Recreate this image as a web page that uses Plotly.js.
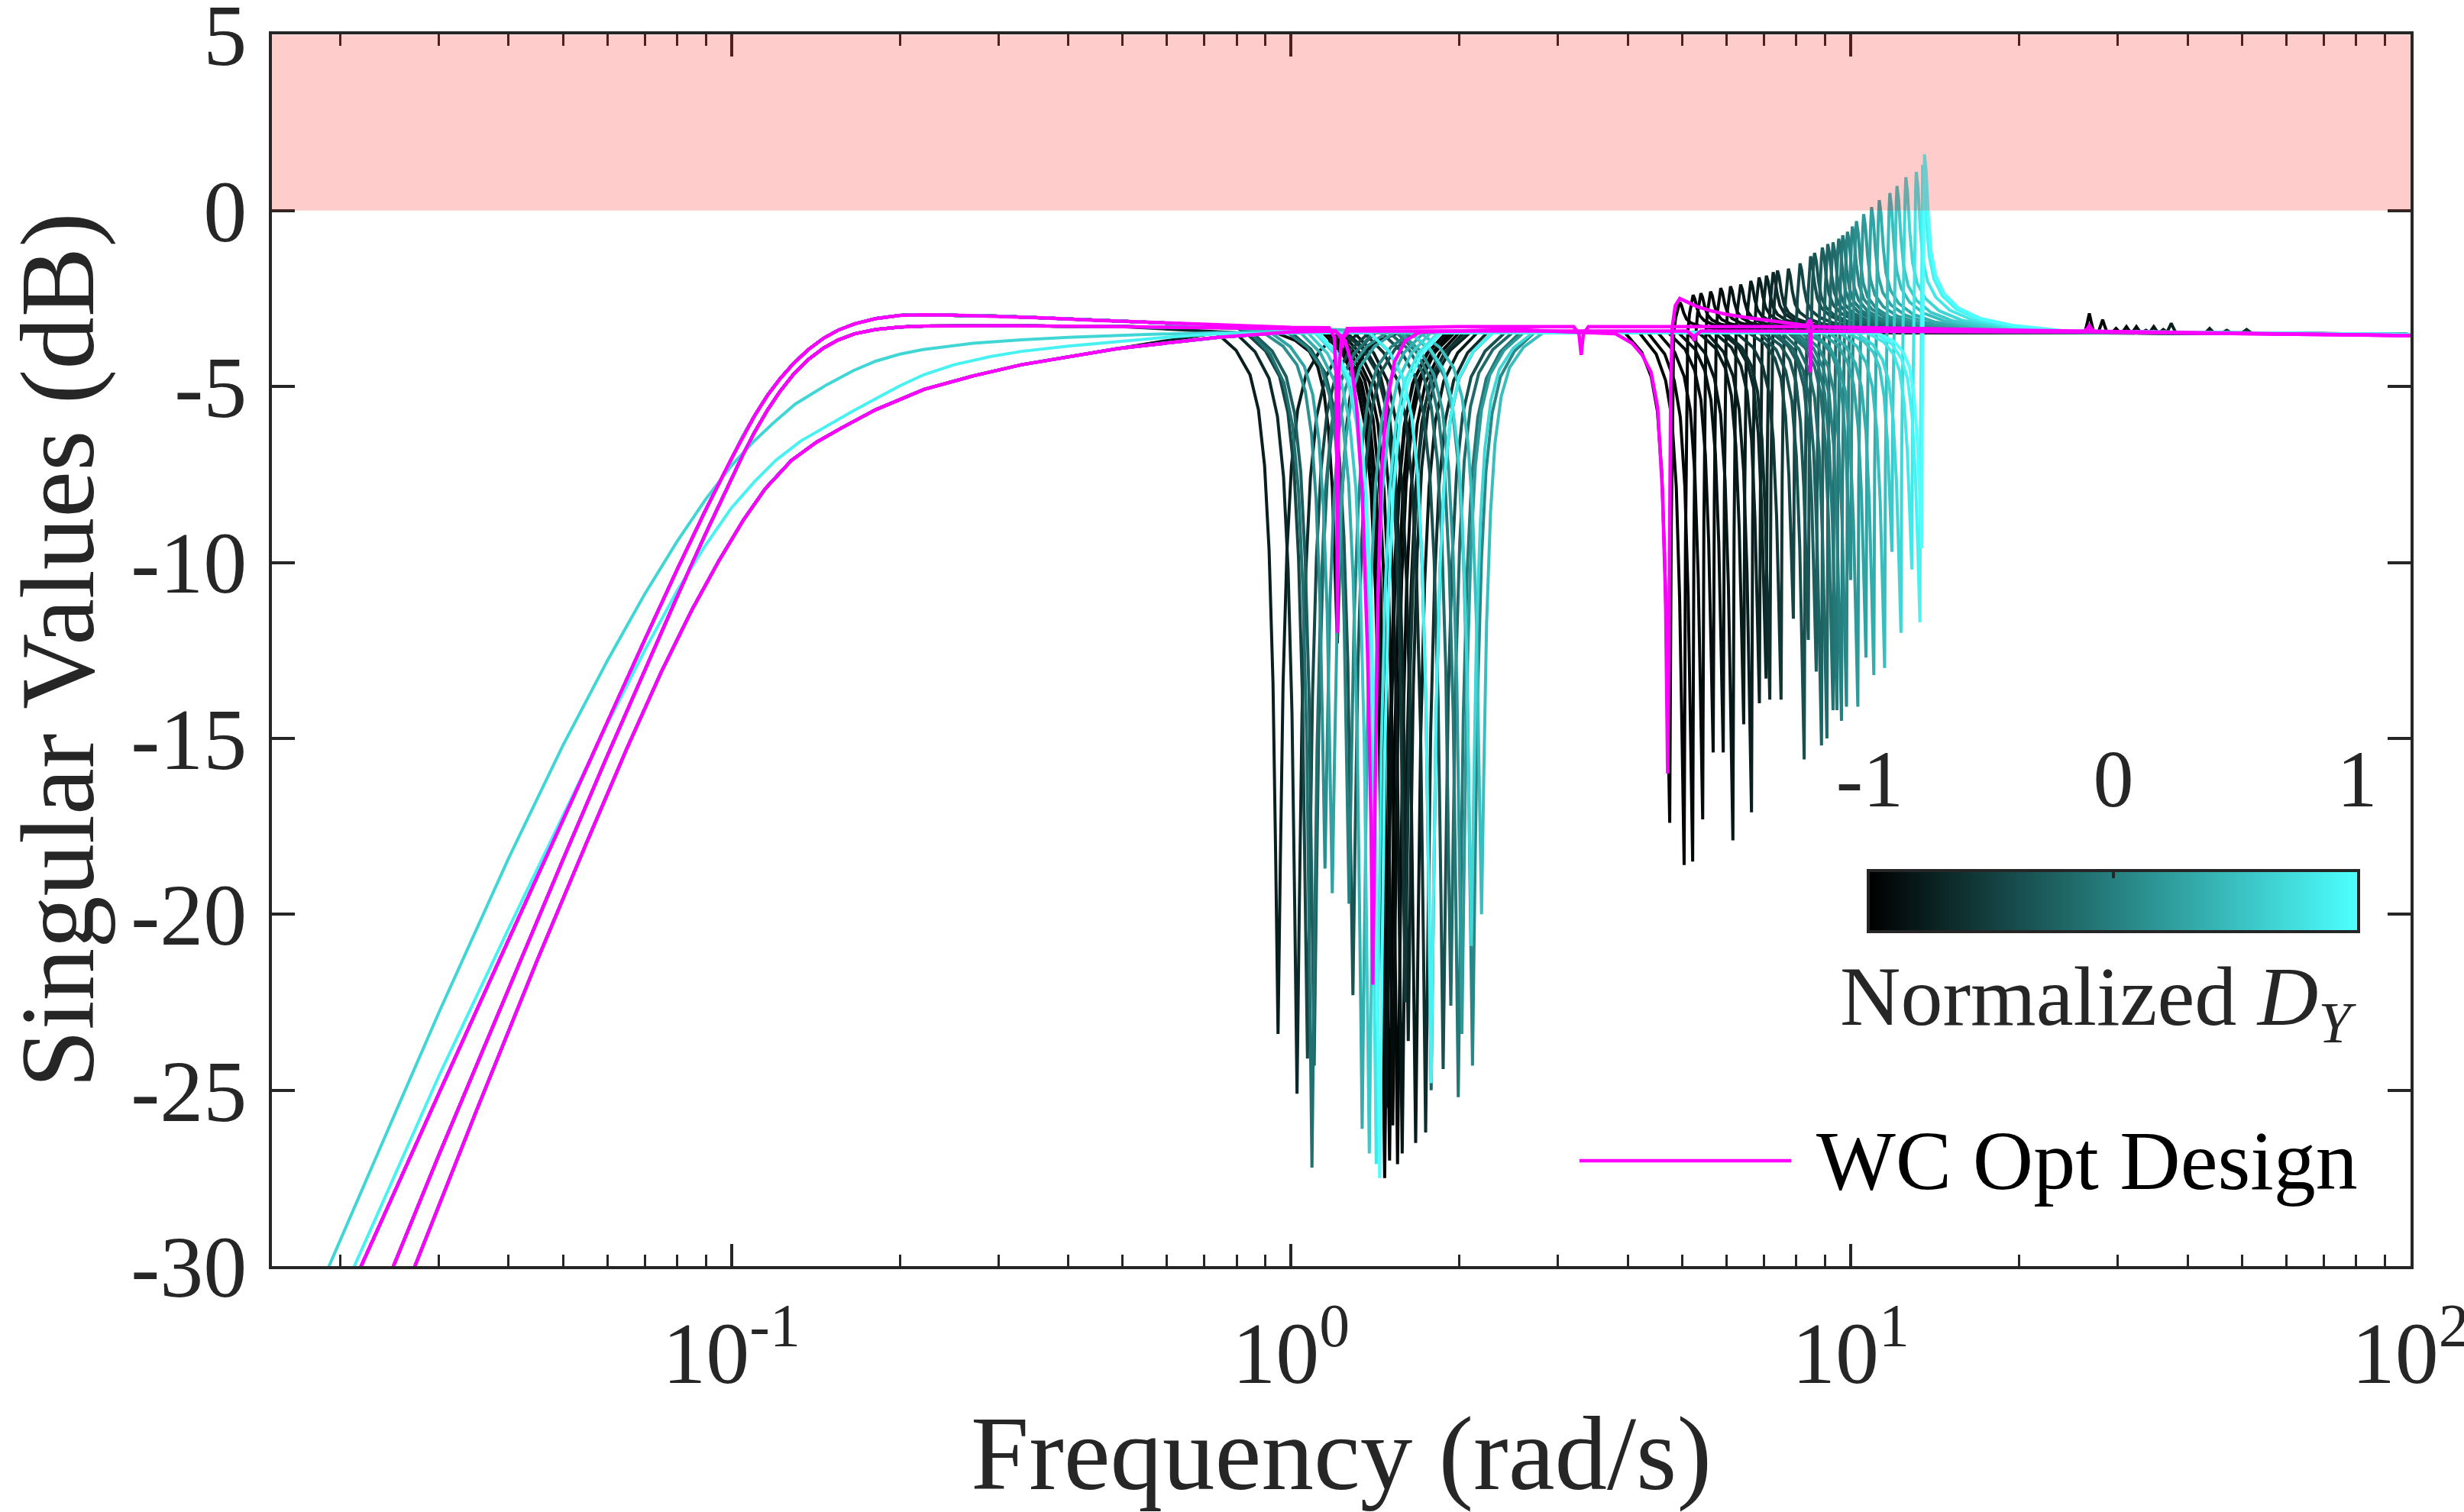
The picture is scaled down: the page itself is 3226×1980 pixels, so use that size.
<!DOCTYPE html>
<html><head><meta charset="utf-8">
<script src="https://cdn.plot.ly/plotly-3.0.1.min.js"></script>
<style>html,body{margin:0;padding:0;background:#fff;}#chart{width:3226px;height:1980px;}</style>
</head><body><div id="chart"></div>
<script>
// ================= DATA =================
// colour value (normalized D_Y) of each family curve
const dyValues = [-1.00,-0.97,-0.94,-0.91,-0.88,-0.85,-0.82,-0.79,-0.76,-0.72,-0.68,-0.64,-0.58,-0.45,-0.38,-0.33,-0.27,-0.22,-0.17,-0.11,-0.06,0.00,0.06,0.12,0.20,0.28,0.36,0.48,0.58,0.68,0.80,0.90,1.00];
// low-frequency roll-off each curve follows
const lowProfileOf = ['T','S','L','T','S','L','T','S','L','T','S','L','T','S','L','T','S','L','T','S','L','T','S','L','T','S','L','T','S','C1','L','C2','T'];
// first anti-resonance (around 1-2 rad/s): frequency (rad/s) and depth (dB)
const notch1Freq  = [1.47,1.50,1.55,1.52,1.48,1.21,1.58,1.67,0.948,1.62,1.025,1.74,1.60,1.07,1.87,1.29,1.10,1.78,1.93,1.09,1.99,1.27,2.11,1.15,2.02,1.185,1.34,2.19,1.38,2.10,1.42,1.78,1.44];
const notch1Depth = [-27.5,-27.0,-27.1,-26.0,-25.5,-12.3,-26.8,-26.5,-23.4,-23.6,-25.1,-26.2,-22.5,-24.1,-24.4,-22.3,-24.3,-25.0,-22.6,-27.2,-25.2,-19.7,-24.3,-18.7,-23.4,-19.4,-26.1,-20.0,-26.8,-20.9,-27.1,-24.8,-27.5];
// second anti-resonance (5-13 rad/s) and the resonance peak right after it
const notch2Freq  = [4.75,5.04,5.22,5.44,5.68,5.92,6.16,6.44,6.65,6.87,7.06,7.17,7.51,7.90,8.26,8.40,8.68,8.87,9.07,9.30,9.45,9.63,9.83,10.0,10.3,10.65,11.0,11.5,11.85,12.3,12.86,13.3,13.4];
const notch2Depth = [-17.4,-18.6,-18.5,-17.3,-15.4,-15.4,-17.9,-14.6,-17.1,-14.0,-13.3,-13.9,-13.9,-11.6,-15.6,-12.2,-13.1,-15.2,-15.0,-14.2,-14.2,-14.5,-14.1,-10.5,-14.1,-12.7,-13.2,-13.0,-9.7,-12.0,-10.2,-11.7,-9.6];
const peak2Freq   = [4.95,5.23,5.40,5.62,5.86,6.10,6.36,6.63,6.86,7.07,7.27,7.40,7.74,8.12,8.48,8.62,8.90,9.10,9.30,9.52,9.68,9.87,10.07,10.24,10.55,10.9,11.25,11.75,12.1,12.55,13.1,13.45,13.55];
const peak2Level  = [-2.6,-2.4,-2.35,-2.3,-2.2,-2.15,-2.1,-2.0,-1.9,-1.85,-1.75,-1.7,-1.65,-1.5,-1.3,-1.2,-1.05,-0.95,-0.9,-0.8,-0.7,-0.6,-0.45,-0.3,-0.1,0.1,0.3,0.5,0.7,0.95,1.1,1.3,1.6];
// small high-frequency ripple (27-51 rad/s) seen on the darkest curves
const bumpFreq  = [26.7,28.2,29.8,31.1,32.4,33.7,34.8,36.2,37.4,43.8,47.0,51.0,null,null,null,null,null,null,null,null,null,null,null,null,null,null,null,null,null,null,null,null,null];
const bumpLevel = [-2.92,-3.1,-3.35,-3.3,-3.3,-3.4,-3.3,-3.38,-3.2,-3.35,-3.4,-3.38,null,null,null,null,null,null,null,null,null,null,null,null,null,null,null,null,null,null,null,null,null];
const plateauDb = -3.47;
const endFreq = 100, endDb = -3.52;

// low-frequency roll-offs (rad/s, dB)
const lowT_f  = [0.0194,0.0218,0.03,0.04,0.05,0.06,0.07,0.08,0.09,0.1,0.105,0.11,0.116,0.122,0.129,0.137,0.146,0.155,0.166,0.181,0.2,0.221,0.25,0.3,0.36,0.45,0.6,0.8];
const lowT_db = [-32,-30,-25.1,-20.7,-17.3,-14.55,-12.2,-10.2,-8.5,-7.05,-6.4,-5.83,-5.25,-4.79,-4.35,-3.96,-3.63,-3.4,-3.22,-3.07,-2.98,-2.96,-2.97,-3.0,-3.05,-3.12,-3.2,-3.28];
const lowS_f  = [0.0222,0.0249,0.03,0.04,0.05,0.06,0.07,0.08,0.09,0.1,0.105,0.11,0.116,0.122,0.129,0.137,0.146,0.155,0.166,0.181,0.2,0.221,0.3,0.5,0.8];
const lowS_db = [-32,-30,-26.85,-22.1,-18.45,-15.5,-13.05,-10.97,-9.17,-7.6,-6.92,-6.3,-5.67,-5.15,-4.66,-4.24,-3.91,-3.68,-3.5,-3.38,-3.31,-3.28,-3.27,-3.3,-3.33];
const lowL_f  = [0.0243,0.0272,0.035,0.045,0.055,0.065,0.075,0.085,0.095,0.105,0.115,0.128,0.142,0.158,0.181,0.221,0.27,0.33,0.49,0.74,1.0];
const lowL_db = [-32,-30,-25.6,-21.3,-18.0,-15.3,-13.1,-11.35,-9.95,-8.8,-7.9,-7.1,-6.58,-6.16,-5.66,-5.08,-4.7,-4.38,-3.92,-3.6,-3.45];
const lowC1_f  = [0.0173,0.0191,0.025,0.03,0.04,0.05,0.06,0.07,0.08,0.09,0.1,0.109,0.1186,0.13,0.148,0.165,0.181,0.2,0.22,0.27,0.33,0.4,0.55,0.74];
const lowC1_db = [-32,-30,-25.7,-22.8,-18.4,-15.2,-12.8,-10.9,-9.4,-8.2,-7.25,-6.6,-6.05,-5.5,-4.95,-4.55,-4.28,-4.08,-3.95,-3.77,-3.67,-3.6,-3.52,-3.47];
const lowC2_f  = [0.0191,0.0212,0.03,0.04,0.05,0.06,0.07,0.08,0.09,0.1,0.11,0.12,0.133,0.148,0.164,0.181,0.2,0.221,0.25,0.29,0.33,0.4,0.49,0.6,0.74];
const lowC2_db = [-32,-30,-24.6,-20.4,-17.2,-14.6,-12.5,-10.8,-9.5,-8.45,-7.7,-7.1,-6.55,-6.12,-5.72,-5.35,-4.98,-4.66,-4.38,-4.15,-4.0,-3.85,-3.72,-3.6,-3.5];

// notch / peak outlines (log10 offset, share of the depth)
const notch1Dx   = [-0.11,-0.075,-0.05,-0.035,-0.024,-0.016,-0.009,-0.004,0,0.004,0.009,0.016,0.024,0.035,0.05,0.075,0.11];
const notch1Frac = [0,0.025,0.06,0.11,0.19,0.31,0.5,0.76,1,0.76,0.5,0.31,0.19,0.11,0.06,0.025,0];
const notch2Dx   = [-0.08,-0.05,-0.033,-0.022,-0.014,-0.008,-0.004,0];
const notch2Frac = [0,0.04,0.09,0.16,0.29,0.5,0.74,1];
const riseShare  = [0.15,0.4,0.6,0.85];          // position between notch and peak
const riseFrac   = [0.4,0,0.5,0.88];             // 0.4 of depth, baseline, then share of peak height
const tailDx     = [0.003,0.007,0.012,0.02,0.035,0.06,0.1,0.16,0.25];
const tailFrac   = [0.9,0.65,0.45,0.32,0.22,0.14,0.08,0.04,0.01];
const bumpDx     = [-0.008,-0.003,0,0.003,0.008];
const bumpFrac   = [0,0.6,1,0.6,0];

// worst-case optimal design (three singular values), after their low-frequency roll-off
const wc1_hf  = [1.0,1.17,1.195,1.203,1.208,1.21,1.212,1.217,1.23,1.26,2.0,3.2,3.27,3.3,3.33,3.4,8.3,8.45,8.55,20,100];
const wc1_hdb = [-3.32,-3.33,-3.6,-4.6,-7.0,-12.0,-7.0,-4.6,-3.7,-3.35,-3.3,-3.3,-3.5,-4.1,-3.5,-3.3,-3.3,-3.1,-3.3,-3.4,-3.55];
const wc2_hf  = [1.0,1.2,1.25,1.28,1.31,1.34,1.37,1.39,1.40,1.415,1.43,1.45,1.48,1.53,1.6,1.7,2.5,3.8,4.07,4.24,4.4,4.52,4.61,4.67,4.71,4.74,4.77,4.80,4.86,4.95,5.1,5.3,5.6,6.0,6.58,7.3,7.95,8.4,8.45,8.47,8.49,8.6,10,20,100];
const wc2_hdb = [-3.35,-3.42,-3.7,-4.3,-5.6,-8.0,-12.5,-17.5,-22.0,-16.0,-11.0,-7.5,-5.6,-4.3,-3.7,-3.45,-3.38,-3.5,-3.77,-4.1,-4.6,-5.6,-8.0,-11.0,-16.0,-11.0,-5.0,-3.3,-2.7,-2.5,-2.6,-2.72,-2.84,-2.95,-3.05,-3.15,-3.23,-3.27,-3.5,-4.6,-3.5,-3.3,-3.33,-3.42,-3.55];
const wc3_hf  = [1.2,1.23,1.236,1.242,1.27,5.1,5.22,5.25,5.28,5.4,26.0,26.5,26.7,26.9,27.4,100];
const wc3_hdb = [-3.42,-3.6,-3.9,-3.6,-3.42,-3.42,-3.55,-3.7,-3.55,-3.42,-3.45,-3.35,-3.27,-3.35,-3.45,-3.55];

// axes / colour bar ticks
const xTickVals = [0.1,1,10,100];
const xTickText = ['10<sup>-1</sup>','10<sup>0</sup>','10<sup>1</sup>','10<sup>2</sup>'];
const xMinorTickVals = [0.02,0.03,0.04,0.05,0.06,0.07,0.08,0.09,0.2,0.3,0.4,0.5,0.6,0.7,0.8,0.9,2,3,4,5,6,7,8,9,20,30,40,50,60,70,80,90];
const yTickVals = [5,0,-5,-10,-15,-20,-25,-30];
const yTickText = ['5','0','-5','-10','-15','-20','-25','-30'];
const cbTickVals = [-1,0,1];
const cbTickText = ['-1','0','1'];
const cbEnds = [-1,1];
const boundTop = 5, boundBottom = 0;   // shaded "violation" band (dB)

// ================= BUILD =================
const lowProfiles = {T:[lowT_f,lowT_db],S:[lowS_f,lowS_db],L:[lowL_f,lowL_db],C1:[lowC1_f,lowC1_db],C2:[lowC2_f,lowC2_db]};
const cEnd = [77,255,255];
function dyColor(v){const t=(v+1)/2;return 'rgb('+Math.round(cEnd[0]*t)+','+Math.round(cEnd[1]*t)+','+Math.round(cEnd[2]*t)+')';}
const lvl=(frac,target)=>plateauDb+frac*(target-plateauDb);

function buildCurve(i){
  const pts=[];
  const [pf,pd]=lowProfiles[lowProfileOf[i]];
  const n1start=notch1Freq[i]*Math.pow(10,notch1Dx[0]);
  pf.forEach((f,k)=>{if(f<n1start)pts.push([f,pd[k]]);});
  notch1Dx.forEach((dx,k)=>pts.push([notch1Freq[i]*Math.pow(10,dx),lvl(notch1Frac[k],notch1Depth[i])]));
  notch2Dx.forEach((dx,k)=>pts.push([notch2Freq[i]*Math.pow(10,dx),lvl(notch2Frac[k],notch2Depth[i])]));
  const r=Math.log10(peak2Freq[i]/notch2Freq[i]);
  riseShare.forEach((s,k)=>{
    const target = k===0 ? notch2Depth[i] : peak2Level[i];
    pts.push([notch2Freq[i]*Math.pow(10,s*r),lvl(riseFrac[k],target)]);
  });
  pts.push([peak2Freq[i],peak2Level[i]]);
  tailDx.forEach((dx,k)=>pts.push([peak2Freq[i]*Math.pow(10,dx),lvl(tailFrac[k],peak2Level[i])]));
  if(bumpFreq[i]!==null){bumpDx.forEach((dx,k)=>pts.push([bumpFreq[i]*Math.pow(10,dx),lvl(bumpFrac[k],bumpLevel[i])]));}
  pts.push([endFreq,endDb]);
  pts.sort((a,b)=>a[0]-b[0]);
  return pts;
}

const traces=[];
const order=dyValues.map((v,i)=>i).sort((a,b)=>dyValues[a]-dyValues[b]);
order.forEach(i=>{
  const p=buildCurve(i);
  traces.push({type:'scatter',mode:'lines',x:p.map(q=>q[0]),y:p.map(q=>q[1]),
    line:{color:dyColor(dyValues[i]),width:4},hoverinfo:'skip',showlegend:false,xaxis:'x',yaxis:'y'});
});
function lowPart(prof,until){const [f,d]=lowProfiles[prof];const fx=[],dx=[];f.forEach((v,k)=>{if(v<until){fx.push(v);dx.push(d[k]);}});return [fx,dx];}
[['T',wc1_hf,wc1_hdb],['S',wc2_hf,wc2_hdb],['L',wc3_hf,wc3_hdb]].forEach(([prof,hf,hd])=>{
  const [lf,ld]=lowPart(prof,hf[0]);
  traces.push({type:'scatter',mode:'lines',x:lf.concat(hf),y:ld.concat(hd),line:{color:'#FF00FF',width:4.5},
    hoverinfo:'skip',showlegend:false,xaxis:'x',yaxis:'y'});
});
// empty trace that carries the minor-tick axis
traces.push({type:'scatter',mode:'lines',x:[],y:[],xaxis:'x3',yaxis:'y',showlegend:false,hoverinfo:'skip'});
// colour bar as a small heatmap subplot
traces.push({type:'heatmap',x:cbEnds,y:[0,1],z:[cbEnds,cbEnds],zmin:-1,zmax:1,zsmooth:'best',
  colorscale:[[0,'rgb(0,0,0)'],[1,'rgb(77,255,255)']],showscale:false,hoverinfo:'skip',xaxis:'x2',yaxis:'y2'});

const axCol='#262626';
const fam='Liberation Serif';
const xRange=[Math.log10(0.0151),Math.log10(100.1)];
const layout={
  width:3226,height:1980,margin:{l:356,r:70,t:45,b:322},
  paper_bgcolor:'#fff',plot_bgcolor:'#fff',showlegend:false,
  font:{family:fam,color:axCol},
  xaxis:{type:'log',range:xRange,domain:[0,1],
    tickmode:'array',tickvals:xTickVals,ticktext:xTickText,
    ticks:'inside',ticklen:29,tickwidth:4,tickcolor:axCol,ticklabeloverflow:'allow',
    showline:true,linecolor:axCol,linewidth:4,mirror:'ticks',showgrid:false,zeroline:false,
    tickfont:{size:114,family:fam,color:axCol},ticklabelstandoff:12,
    title:{text:'Frequency (rad/s)',font:{size:137,family:fam,color:axCol},standoff:30}},
  xaxis3:{type:'log',range:xRange,overlaying:'x',anchor:'y',side:'bottom',
    tickmode:'array',tickvals:xMinorTickVals,showticklabels:false,
    ticks:'inside',ticklen:15,tickwidth:3,tickcolor:axCol,showline:false,mirror:'ticks',showgrid:false,zeroline:false},
  yaxis:{range:[-30,5.01],domain:[0,1],tickmode:'array',tickvals:yTickVals,ticktext:yTickText,
    ticks:'inside',ticklen:30,tickwidth:4,tickcolor:axCol,ticklabeloverflow:'allow',
    showline:true,linecolor:axCol,linewidth:4,mirror:'ticks',showgrid:false,zeroline:false,
    tickfont:{size:114,family:fam,color:axCol},ticklabelstandoff:6,
    title:{text:'Singular Values (dB)',font:{size:137,family:fam,color:axCol},standoff:52}},
  xaxis2:{anchor:'y2',domain:[0.7471,0.975],range:cbEnds,side:'top',tickmode:'array',tickvals:cbTickVals,ticktext:cbTickText,
    ticks:'inside',ticklen:8,tickwidth:4,tickcolor:axCol,showline:true,linecolor:axCol,linewidth:4,mirror:true,ticklabeloverflow:'allow',
    showgrid:false,zeroline:false,tickfont:{size:106,family:fam,color:axCol},ticklabelstandoff:40},
  yaxis2:{anchor:'x2',domain:[0.2728,0.3199],range:[0,1],showticklabels:false,ticks:'',showline:true,linecolor:axCol,
    linewidth:4,mirror:true,showgrid:false,zeroline:false},
  shapes:[
    {type:'rect',xref:'x domain',x0:0,x1:1,yref:'y',y0:boundBottom,y1:boundTop,fillcolor:'rgba(255,0,0,0.2)',line:{width:0},layer:'above'},
    {type:'line',xref:'paper',x0:0.6114,x1:0.7104,yref:'paper',y0:0.0856,y1:0.0856,line:{color:'#FF00FF',width:4.5}}
  ],
  annotations:[
    {xref:'paper',yref:'paper',x:0.7214,y:0.0856,xanchor:'left',yanchor:'middle',showarrow:false,
     text:'WC Opt Design',font:{size:110,family:fam,color:'#000'}},
    {xref:'paper',yref:'paper',x:0.854,y:0.2139,xanchor:'center',yanchor:'middle',showarrow:false,
     text:'Normalized <i>D</i><sub><i>Y</i></sub>',font:{size:110,family:fam,color:axCol}}
  ]
};
Plotly.newPlot('chart',traces,layout,{staticPlot:true,displayModeBar:false});
</script></body></html>
